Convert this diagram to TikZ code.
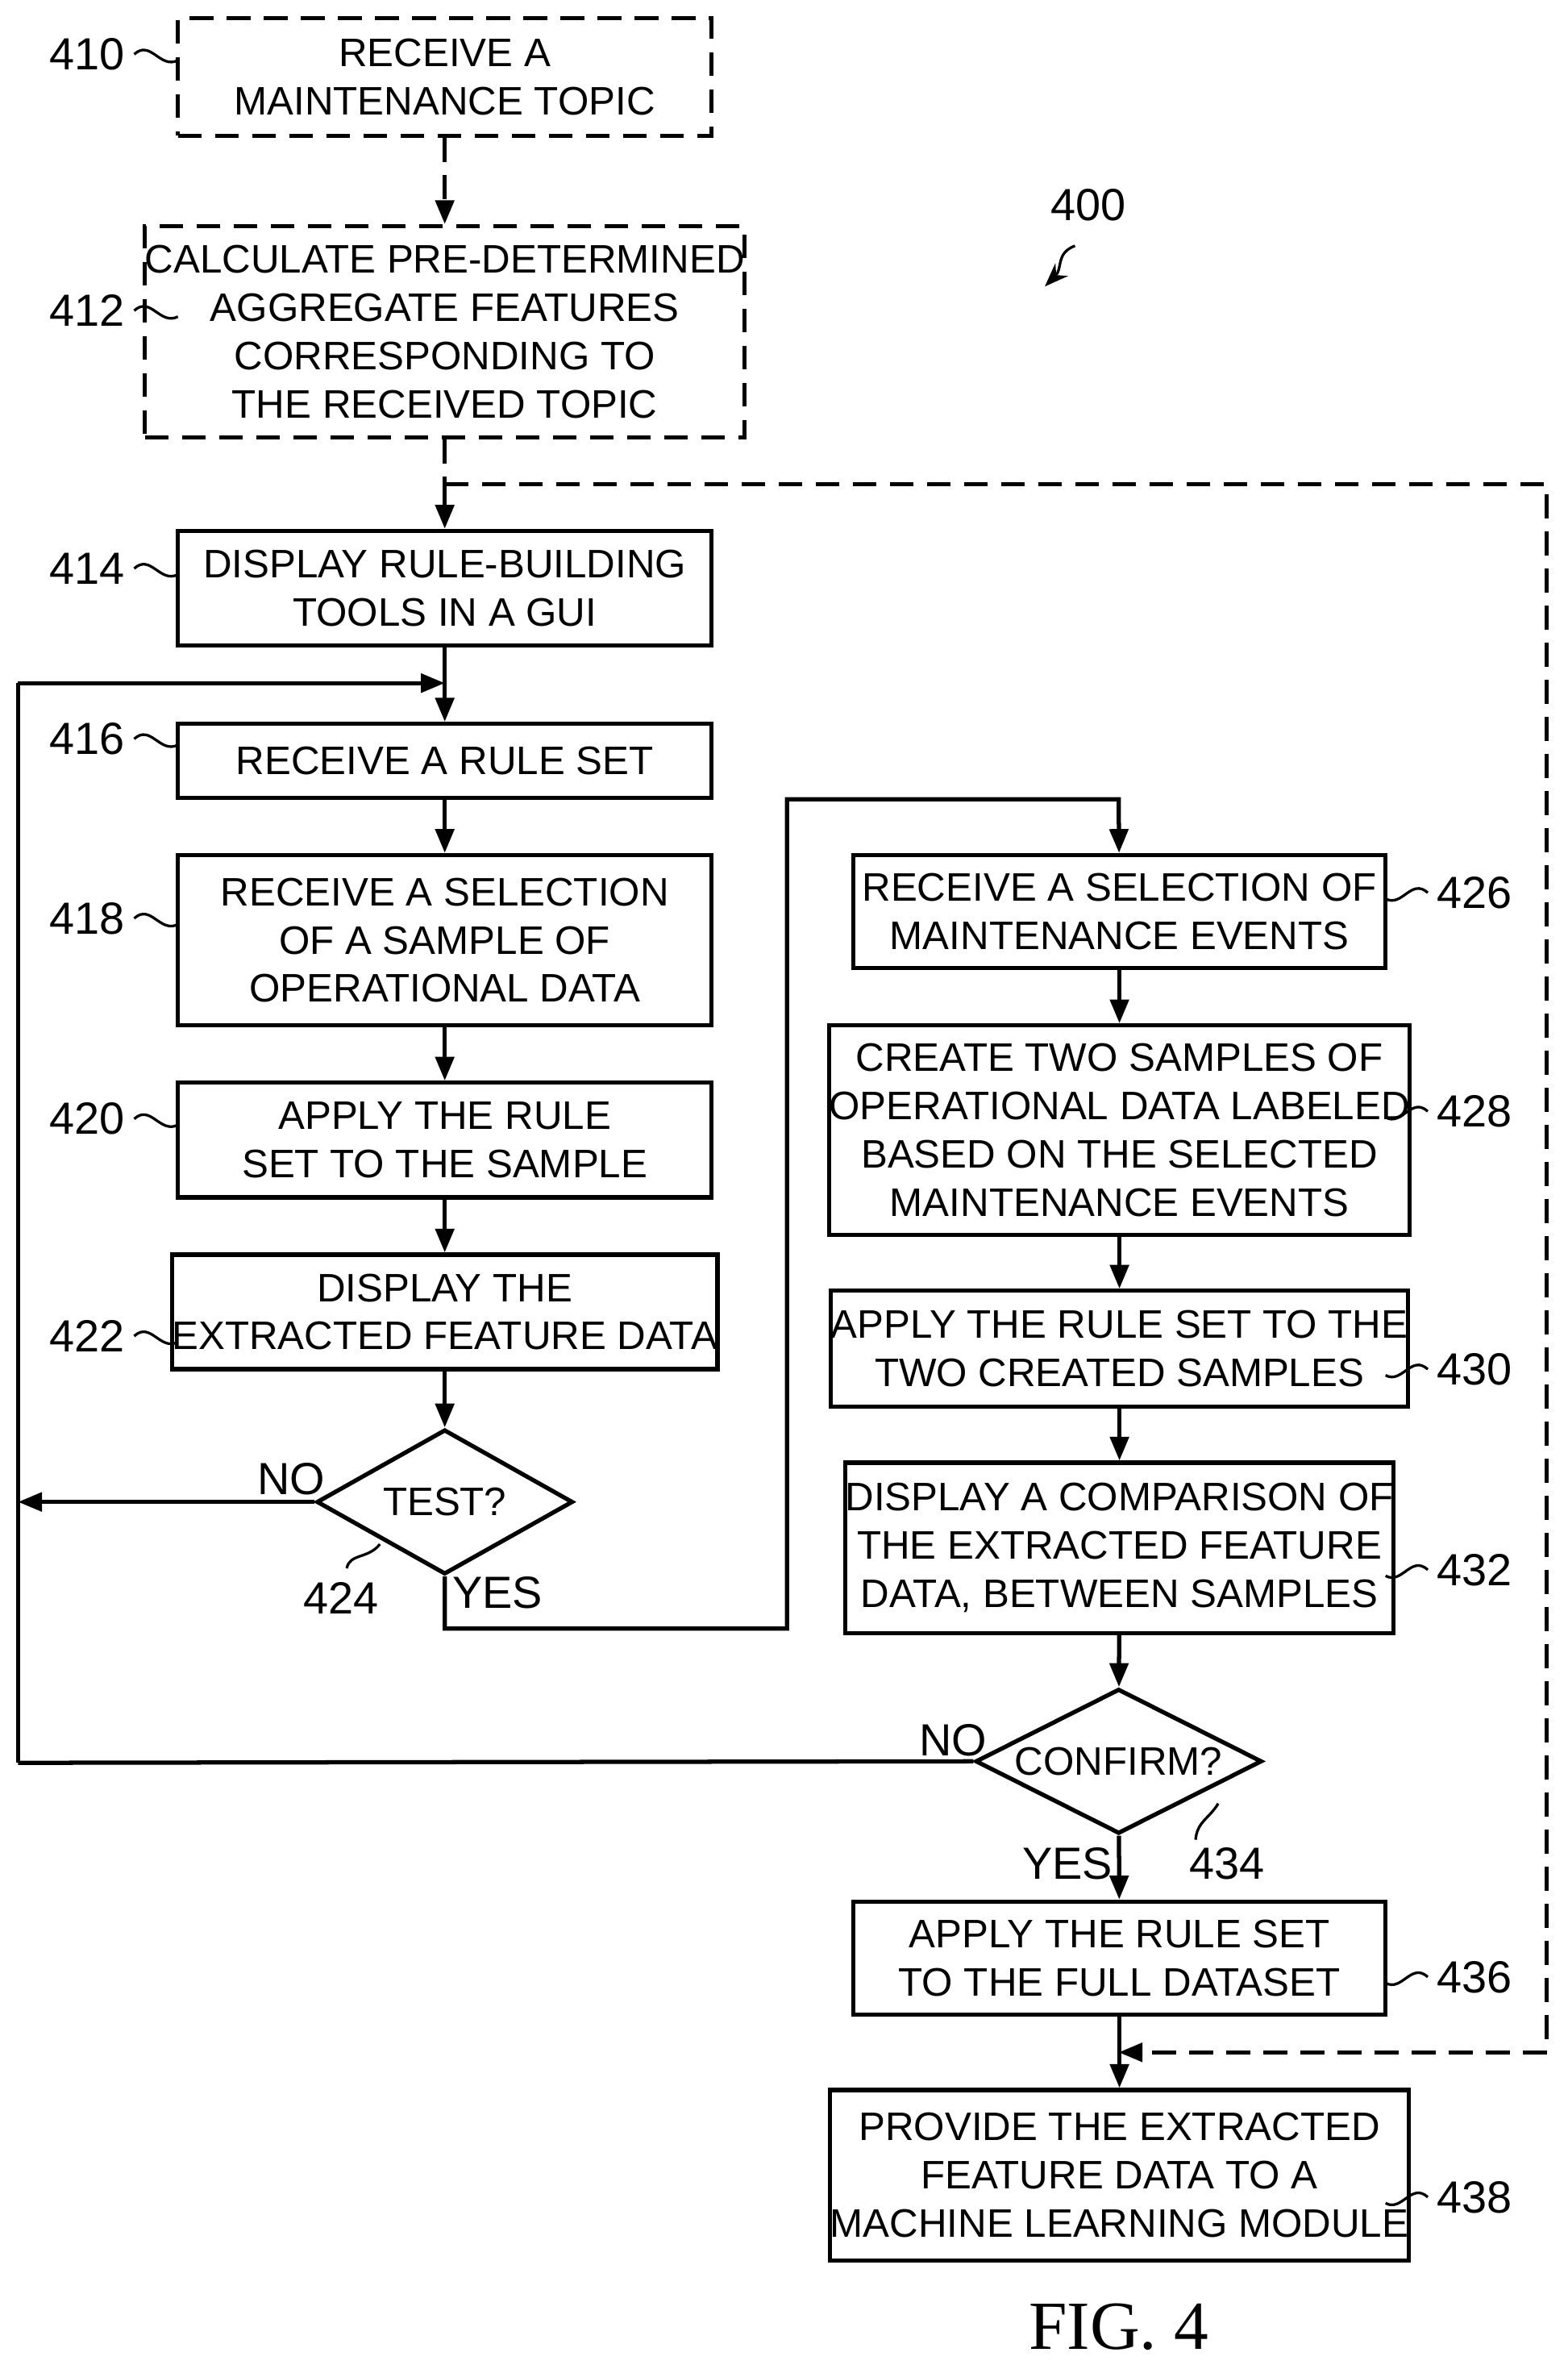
\documentclass[tikz,border=0pt]{standalone}
\usepackage{fontspec}
\setmainfont{Liberation Sans}
\newfontfamily\figfont{Liberation Serif}
\usetikzlibrary{shapes.geometric,arrows.meta}
\begin{document}
\begin{tikzpicture}[x=0.02cm,y=-0.02cm,
 font=\fontsize{15}{18.2}\selectfont,
 line width=1.6pt,
 arr/.style={-{Triangle[length=9pt,width=7pt]}},
 bx/.style={draw,line width=1.6pt,align=center,inner sep=0pt},
 dsh/.style={dash pattern=on 9pt off 5pt},
 lab/.style={font=\fontsize{17}{20}\selectfont},
 sq/.style={line width=1pt}]
\useasboundingbox (0,0) rectangle (1040,1571);
\newcommand\bxx[6]{\node[bx,#6,minimum width=#3*0.02cm,minimum height=#4*0.02cm] (#1) at (#2) {#5};}
\bxx{b410}{295,51}{354}{78}{RECEIVE A\\MAINTENANCE TOPIC}{dsh}
\bxx{b412}{295,220}{354}{140}{CALCULATE PRE-DETERMINED\\AGGREGATE FEATURES\\CORRESPONDING TO\\THE RECEIVED TOPIC}{dsh}
\bxx{b414}{295,390}{354}{76}{DISPLAY RULE-BUILDING\\TOOLS IN A GUI}{}
\bxx{b416}{295,504.5}{354}{49}{RECEIVE A RULE SET}{}
\bxx{b418}{295,623.5}{354}{113}{RECEIVE A SELECTION\\OF A SAMPLE OF\\OPERATIONAL DATA}{}
\bxx{b420}{295,756}{354}{76}{APPLY THE RULE\\SET TO THE SAMPLE}{}
\bxx{b422}{295,870}{354}{76}{DISPLAY THE\\EXTRACTED FEATURE DATA}{}
\node[draw,diamond,aspect=1.77,minimum width=170*0.02cm,minimum height=96*0.02cm,inner sep=0pt] (d424) at (295,996) {TEST?};
\bxx{b426}{742.5,604.5}{353}{75}{RECEIVE A SELECTION OF\\MAINTENANCE EVENTS}{}
\bxx{b428}{742.5,749.5}{353}{139}{CREATE TWO SAMPLES OF\\OPERATIONAL DATA LABELED\\BASED ON THE SELECTED\\MAINTENANCE EVENTS}{}
\bxx{b430}{742.5,894.5}{353}{77}{APPLY THE RULE SET TO THE\\TWO CREATED SAMPLES}{}
\bxx{b432}{742.5,1026.5}{353}{113}{DISPLAY A COMPARISON OF\\THE EXTRACTED FEATURE\\DATA, BETWEEN SAMPLES}{}
\node[draw,diamond,aspect=1.98,minimum width=190*0.02cm,minimum height=96*0.02cm,inner sep=0pt] (d434) at (742,1168) {CONFIRM?};
\bxx{b436}{742.5,1298.5}{353}{75}{APPLY THE RULE SET\\TO THE FULL DATASET}{}
\bxx{b438}{742.5,1442.5}{353}{113}{PROVIDE THE EXTRACTED\\FEATURE DATA TO A\\MACHINE LEARNING MODULE}{}
% connectors
\coordinate (c1) at (295,321);
\coordinate (c2) at (1026,321);
\coordinate (c3) at (1026,1361);
\coordinate (c4) at (742,1361);
\coordinate (l1) at (12,453);
\coordinate (l2) at (12,996);
\coordinate (l3) at (12,1169);
\coordinate (m1) at (295,453);
\coordinate (y1) at (295,1080);
\coordinate (y2) at (522,1080);
\coordinate (y3) at (522,530);
\coordinate (y4) at (742,530);
\draw[arr,dsh] (b410) -- (b412);
\draw[dsh] (b412) -- (c1);
\draw[arr] (c1) -- (b414);
\draw[dsh,arr] (c1) -- (c2) -- (c3) -- (c4);
\draw[arr] (b414) -- (b416);
\draw[arr] (l1) -- (m1);
\draw (l1) -- (l3);
\draw[arr] (b416) -- (b418);
\draw[arr] (b418) -- (b420);
\draw[arr] (b420) -- (b422);
\draw[arr] (b422) -- (d424);
\draw[arr] (d424.west) -- (l2);
\draw[arr] (d424.south) -- (y1) -- (y2) -- (y3) -- (y4) -- (b426);
\draw[arr] (b426) -- (b428);
\draw[arr] (b428) -- (b430);
\draw[arr] (b430) -- (b432);
\draw[arr] (b432) -- (d434);
\draw (d434.west) -- (l3);
\draw[arr] (d434) -- (b436);
\draw[arr] (b436) -- (b438);
% labels
\node[lab] at (193,981) {NO};
\node[lab] at (330,1056) {YES};
\node[lab] at (632,1154) {NO};
\node[lab] at (708,1236) {YES};
\newcommand\sqq[3]{\draw[sq] (#1) .. controls ($(#1)!0.4!(#2)+(0,-8)$) and ($(#1)!0.6!(#2)+(0,8)$) .. (#2); }
\usetikzlibrary{calc}
\node[lab] (n410) at (58,36) {410};
\node[lab] (n412) at (58,206) {412};
\node[lab] (n414) at (58,377) {414};
\node[lab] (n416) at (58,490) {416};
\node[lab] (n418) at (58,609) {418};
\node[lab] (n420) at (58,742) {420};
\node[lab] (n422) at (58,886) {422};
\node[lab] (n424) at (226,1060) {424};
\node[lab] (n426) at (978,592) {426};
\node[lab] (n428) at (978,737) {428};
\node[lab] (n430) at (978,908) {430};
\node[lab] (n432) at (978,1041) {432};
\node[lab] (n434) at (814,1236) {434};
\node[lab] (n436) at (978,1311) {436};
\node[lab] (n438) at (978,1457) {438};
\node[lab] (n400) at (722,136) {400};
\foreach \n/\y in {410/36,412/206,414/377,416/490,418/609,420/742,422/886}{
 \draw[sq] (89,\y) .. controls (100,\y-10) and (106,\y+10) .. (118,\y+4);}
\foreach \n/\y in {426/592,428/737,430/908,432/1041,436/1311,438/1457}{
 \draw[sq] (947,\y) .. controls (936,\y-10) and (930,\y+10) .. (919,\y+4);}
\draw[sq] (230,1040) .. controls (232,1030) and (244,1034) .. (252,1024);
\draw[sq] (793,1220) .. controls (794,1208) and (802,1206) .. (808,1196);
\draw[line width=1pt,-{Stealth[length=9pt]}] (713,163) .. controls (700,168) and (705,178) .. (693,190);
\node[font=\figfont\fontsize{26}{30}\selectfont] at (742,1543) {FIG. 4};
\end{tikzpicture}
\end{document}
